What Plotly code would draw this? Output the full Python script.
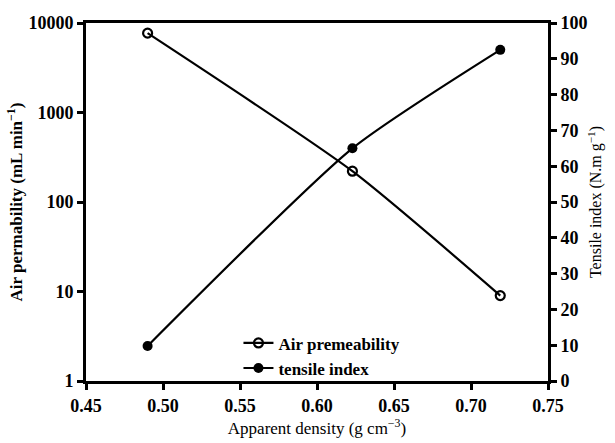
import plotly.graph_objects as go

density = [0.49, 0.623, 0.719]
air_permeability = [7700, 221, 9.0]
tensile_index = [9.8, 65, 92.5]

FONT = "Liberation Serif, Times New Roman, serif"

fig = go.Figure()
fig.add_trace(go.Scatter(
    x=density, y=air_permeability, name="Air premeability",
    mode="lines+markers", line=dict(color="black", width=2.2, shape="spline", smoothing=0.6),
    marker=dict(symbol="circle-open", size=9, color="black", line=dict(width=2.2)),
))
fig.add_trace(go.Scatter(
    x=density, y=tensile_index, name="tensile index", yaxis="y2",
    mode="lines+markers", line=dict(color="black", width=2.2, shape="spline", smoothing=0.6),
    marker=dict(symbol="circle", size=10, color="black"),
))

axis_common = dict(showline=True, linecolor="black", linewidth=3, ticks="outside",
                   ticklen=6, tickwidth=2.5, tickcolor="black", showgrid=False, zeroline=False,
                   tickfont=dict(family=FONT, size=18, color="black", weight=700))

fig.update_layout(
    width=615, height=443,
    margin=dict(l=86, r=67, t=23, b=60),
    paper_bgcolor="white", plot_bgcolor="white",
    font=dict(family=FONT, color="black"),
    xaxis=dict(range=[0.45, 0.75], tickvals=[0.45, 0.5, 0.55, 0.6, 0.65, 0.7, 0.75],
               tickformat=".2f", mirror=True,
               title=dict(text="Apparent density (g cm<sup>−3</sup>)",
                          font=dict(size=17, family=FONT), standoff=4),
               **axis_common),
    yaxis=dict(type="log", range=[0, 4], tickvals=[1, 10, 100, 1000, 10000],
               ticktext=["1", "10", "100", "1000", "10000"],
               title=dict(text="Air permability (mL min<sup>−1</sup>)",
                          font=dict(size=17, family=FONT, weight=600), standoff=2),
               **axis_common),
    yaxis2=dict(overlaying="y", side="right", range=[0, 100], dtick=10,
                title=dict(text="Tensile index (N.m g<sup>−1</sup>)",
                           font=dict(size=16, family=FONT), standoff=4),
                **axis_common),
    legend=dict(x=0.33, y=-0.015, xanchor="left", yanchor="bottom", bgcolor="rgba(0,0,0,0)",
                font=dict(family=FONT, size=17, color="black", weight=600),
                tracegroupgap=0, itemwidth=30),
)

fig.write_html("out.html")
